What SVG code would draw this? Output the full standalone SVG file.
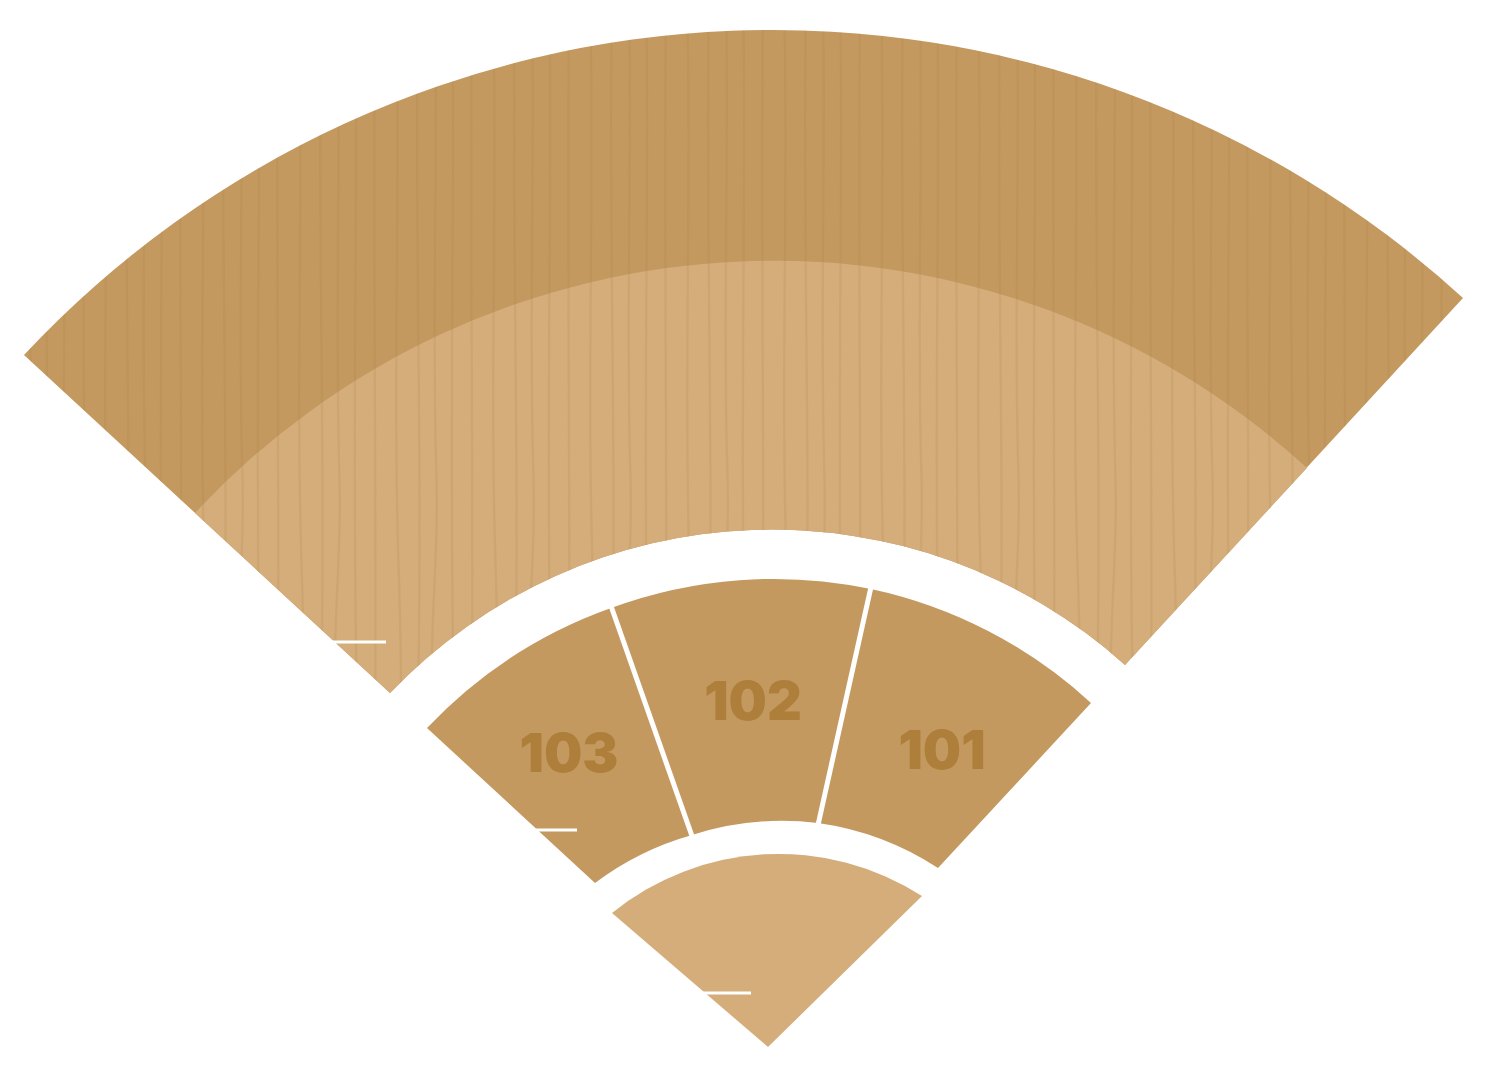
<svg xmlns="http://www.w3.org/2000/svg" width="1500" height="1078" viewBox="0 0 1500 1078">
<style>
.dark{fill:#C4995F}
.light{fill:#D4AD7B}
.grain{fill:url(#wood)}
.num{font-family:Inter,"Liberation Sans",sans-serif;font-weight:900;font-size:54px;fill:#AD7F3A;text-anchor:middle}
.div{stroke:#FFFFFF;stroke-width:5;fill:none}
.tick{stroke:#FFFFFF;stroke-width:3;fill:none}
</style>
<defs>
<pattern id="wood" patternUnits="userSpaceOnUse" x="0" y="0" width="97" height="1078">
<g fill="none" stroke="#A87A3C" stroke-opacity="0.16" stroke-width="2.5">
<path d="M8 0 C13 180 4 380 11 580 S6 880 10 1078"/>
<path d="M30 0 C26 240 36 480 29 740 S33 960 30 1078"/>
<path d="M47 0 C50 160 44 300 48 460 C52 560 40 620 44 760 S50 980 47 1078"/>
<path d="M64 0 C68 150 60 440 66 700 S61 1000 65 1078"/>
<path d="M84 0 C81 290 88 590 82 1078"/>
</g>
</pattern>
</defs>
<rect width="1500" height="1078" fill="#FFFFFF"/>
<g id="upper-level">
<path class="dark" d="M24,355 A1024,1024 0 0 1 1463,298 L1125,665 A528,528 0 0 0 390,693 Z"/>
<path class="grain" d="M24,355 A1024,1024 0 0 1 1463,298 L1125,665 A528,528 0 0 0 390,693 Z"/>
</g>
<g id="lower-level">
<path class="light" d="M195,513 A790,790 0 0 1 1307,468 L1125,665 A528,528 0 0 0 390,693 Z"/>
<path class="grain" d="M195,513 A790,790 0 0 1 1307,468 L1125,665 A528,528 0 0 0 390,693 Z"/>
</g>
<g id="section-103">
<path class="dark" d="M427,728 A471,471 0 0 1 611,608 L692,835 A295,295 0 0 0 595,883 Z"/>
<text class="num" x="569" y="772">103</text>
</g>
<g id="section-102">
<path class="dark" d="M611,608 A471,471 0 0 1 871,589 L818,823 A295,295 0 0 0 692,835 Z"/>
<text class="num" x="753" y="720">102</text>
</g>
<g id="section-101">
<path class="dark" d="M871,589 A471,471 0 0 1 1091,703 L938,868 A295,295 0 0 0 818,823 Z"/>
<text class="num" x="942" y="769">101</text>
</g>
<g id="stage">
<path class="light" d="M612,913 A265,265 0 0 1 922,896 L768,1047 Z"/>
</g>
<g id="connectors">
<line class="div" x1="611" y1="606" x2="692" y2="836"/>
<line class="div" x1="871" y1="587" x2="818" y2="825"/>
<line class="tick" x1="300" y1="642" x2="386" y2="642"/>
<line class="tick" x1="500" y1="830" x2="577" y2="830"/>
<line class="tick" x1="680" y1="993" x2="751" y2="993"/>
</g>
</svg>
